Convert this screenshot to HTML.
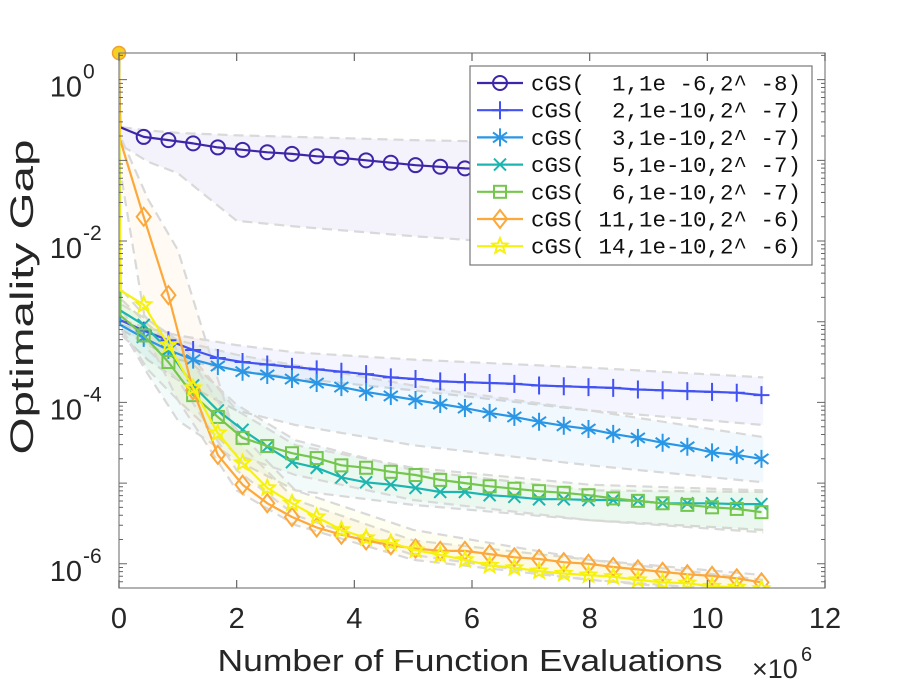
<!DOCTYPE html>
<html><head><meta charset="utf-8"><style>
html,body{margin:0;padding:0;background:#fff;}
svg{display:block;font-family:"Liberation Sans",Arial,sans-serif;}
</style></head><body>
<svg id="chart" width="913" height="686" viewBox="0 0 913 686" xmlns="http://www.w3.org/2000/svg">
<defs><clipPath id="plotclip"><rect x="119" y="53" width="706" height="535"/></clipPath></defs>
<g id="bands" clip-path="url(#plotclip)"></g>
<g id="lines" clip-path="url(#plotclip)"></g>
<g id="axes"></g>
<g id="legend"></g>
</svg>
<script>
// x grid (function evaluations, ×1e6)
const xs = [0, 0.02, 0.42, 0.84, 1.26, 1.68, 2.1, 2.52, 2.94, 3.36, 3.78, 4.2, 4.62, 5.04, 5.46, 5.88, 6.3, 6.72, 7.14, 7.56, 7.98, 8.4, 8.82, 9.24, 9.66, 10.08, 10.5, 10.92];
const initLog = 0.33;
// series values as log10(optimality gap) at xs[1..]
const s1Log = [-0.59,-0.71,-0.75,-0.79,-0.84,-0.87,-0.90,-0.92,-0.95,-0.97,-1.00,-1.03,-1.06,-1.08,-1.10,-1.11,-1.13,-1.15,-1.17,-1.19,-1.21,-1.23,-1.25,-1.27,-1.29,-1.31,-1.33];
const s2Log = [-2.98,-3.11,-3.23,-3.35,-3.45,-3.50,-3.53,-3.56,-3.59,-3.62,-3.65,-3.69,-3.71,-3.74,-3.75,-3.76,-3.77,-3.79,-3.80,-3.81,-3.82,-3.84,-3.85,-3.86,-3.87,-3.88,-3.91];
const s3Log = [-3.04,-3.20,-3.35,-3.47,-3.55,-3.62,-3.66,-3.71,-3.76,-3.81,-3.87,-3.92,-3.97,-4.02,-4.07,-4.13,-4.18,-4.24,-4.29,-4.33,-4.39,-4.44,-4.50,-4.55,-4.62,-4.65,-4.70];
const s5Log = [-2.86,-3.04,-3.35,-3.79,-4.10,-4.34,-4.55,-4.74,-4.81,-4.93,-4.99,-5.02,-5.06,-5.11,-5.11,-5.15,-5.17,-5.20,-5.20,-5.21,-5.21,-5.22,-5.25,-5.25,-5.25,-5.26,-5.26];
const s6Log = [-2.92,-3.17,-3.50,-3.91,-4.18,-4.44,-4.54,-4.63,-4.69,-4.78,-4.81,-4.86,-4.90,-4.96,-5.00,-5.04,-5.07,-5.10,-5.12,-5.15,-5.19,-5.22,-5.25,-5.27,-5.30,-5.32,-5.36];
const s11Log = [-0.75,-1.70,-2.67,-3.85,-4.65,-5.02,-5.25,-5.42,-5.55,-5.64,-5.71,-5.77,-5.81,-5.84,-5.84,-5.88,-5.92,-5.94,-5.98,-6.00,-6.04,-6.07,-6.10,-6.13,-6.15,-6.18,-6.23];
const s14Log = [-2.61,-2.79,-3.29,-3.82,-4.38,-4.75,-5.06,-5.25,-5.42,-5.58,-5.68,-5.74,-5.83,-5.89,-5.95,-6.02,-6.05,-6.09,-6.12,-6.14,-6.16,-6.20,-6.23,-6.24,-6.28,-6.29,-6.31];
// band boundaries (log10)
const bandX = [0.05, 0.5, 1, 2, 3, 5, 8, 10.95];
const b1Up = [-0.59,-0.63,-0.66,-0.69,-0.71,-0.75,-0.79,-0.81], b1Lo = [-0.82,-1.02,-1.16,-1.75,-1.82,-1.94,-2.09,-2.17];
const b2Up = [-2.98,-3.08,-3.17,-3.29,-3.38,-3.47,-3.57,-3.69], b2Lo = [-3.10,-3.29,-3.47,-3.60,-3.70,-3.85,-4.10,-4.28];
const b3Up = [-3.04,-3.14,-3.23,-3.41,-3.54,-3.79,-4.10,-4.43], b3Lo = [-3.17,-3.48,-3.72,-4.10,-4.28,-4.53,-4.78,-4.99];
const b5Up = [-2.73,-3.04,-3.35,-4.03,-4.47,-4.84,-5.09,-5.11], b5Lo = [-3.10,-3.66,-4.22,-4.72,-5.09,-5.27,-5.46,-5.58];
const b6Up = [-2.79,-2.98,-3.23,-4.10,-4.53,-4.81,-5.02,-5.09], b6Lo = [-3.10,-3.60,-3.97,-4.65,-4.90,-5.21,-5.46,-5.61];
const b11Up = [-0.75,-1.49,-2.11,-4.47,-5.21,-5.71,-5.95,-6.14], b11Lo = [-1.25,-3.23,-3.97,-5.09,-5.52,-5.95,-6.20,-6.35];
const b14Up = [-2.61,-2.98,-3.23,-4.34,-5.09,-5.58,-5.95,-6.20], b14Lo = [-2.86,-3.35,-3.72,-4.84,-5.40,-5.89,-6.20,-6.39];
const legendLabels = ["cGS(  1,1e -6,2^ -8)","cGS(  2,1e-10,2^ -7)","cGS(  3,1e-10,2^ -7)","cGS(  5,1e-10,2^ -7)","cGS(  6,1e-10,2^ -7)","cGS( 11,1e-10,2^ -6)","cGS( 14,1e-10,2^ -6)"];
const xTicks = [0,2,4,6,8,10,12];
const yTicks = [0,-2,-4,-6];

const NS="http://www.w3.org/2000/svg";
const X0=119,X1=825,Y0=53,Y1=588;
const xMin=0,xMax=12,lTop=0.33,lBot=-6.30;
const sx=v=>X0+(v-xMin)/(xMax-xMin)*(X1-X0);
const sy=l=>Y0+(lTop-l)/(lTop-lBot)*(Y1-Y0);
function mk(tag,at,parent){const e=document.createElementNS(NS,tag);for(const k in at)e.setAttribute(k,at[k]);parent.appendChild(e);return e;}

const series=[
 {name:"series-m1",data:s1Log,up:b1Up,lo:b1Lo,color:"#3e26a8",marker:"circle"},
 {name:"series-m2",data:s2Log,up:b2Up,lo:b2Lo,color:"#4352f3",marker:"plus"},
 {name:"series-m3",data:s3Log,up:b3Up,lo:b3Lo,color:"#2996e6",marker:"star6"},
 {name:"series-m5",data:s5Log,up:b5Up,lo:b5Lo,color:"#1cb5b0",marker:"x"},
 {name:"series-m6",data:s6Log,up:b6Up,lo:b6Lo,color:"#74c64c",marker:"square"},
 {name:"series-m11",data:s11Log,up:b11Up,lo:b11Lo,color:"#fca83a",marker:"diamond"},
 {name:"series-m14",data:s14Log,up:b14Up,lo:b14Lo,color:"#f5f20f",marker:"pent"}
];
const bandsG=document.getElementById('bands'),linesG=document.getElementById('lines'),axesG=document.getElementById('axes'),legG=document.getElementById('legend');

function drawMarker(type,x,y,color,parent){
 let e;const st={fill:"none",stroke:color,"stroke-width":2};
 if(type==="circle"){e=mk('circle',Object.assign({cx:x,cy:y,r:7},st),parent);}
 else if(type==="plus"){e=mk('path',Object.assign({d:`M${x-8},${y}H${x+8}M${x},${y-9}V${y+9}`},st),parent);}
 else if(type==="x"){e=mk('path',Object.assign({d:`M${x-6},${y-6}L${x+6},${y+6}M${x-6},${y+6}L${x+6},${y-6}`},st),parent);}
 else if(type==="star6"){e=mk('path',Object.assign({d:`M${x},${y-9}V${y+9}M${x-7},${y-5}L${x+7},${y+5}M${x-7},${y+5}L${x+7},${y-5}`},st),parent);}
 else if(type==="square"){e=mk('rect',Object.assign({x:x-6,y:y-6,width:12,height:12},st),parent);}
 else if(type==="diamond"){e=mk('path',Object.assign({d:`M${x},${y-9}L${x+7},${y}L${x},${y+9}L${x-7},${y}Z`},st),parent);}
 else {let p="";for(let i=0;i<10;i++){const r=i%2?3.5:8,a=-Math.PI/2+i*Math.PI/5;p+=(i?"L":"M")+(x+r*Math.cos(a)).toFixed(1)+","+(y+r*Math.sin(a)).toFixed(1);}e=mk('path',Object.assign({d:p+"Z"},st),parent);}
 return e;
}

// bands
series.forEach(s=>{
 let up=bandX.map((x,i)=>`${sx(x).toFixed(1)},${sy(s.up[i]).toFixed(1)}`);
 let lo=bandX.map((x,i)=>`${sx(x).toFixed(1)},${sy(s.lo[i]).toFixed(1)}`).reverse();
 const poly=mk('polygon',{points:up.concat(lo).join(' '),fill:s.color,"fill-opacity":0.06,stroke:"none"},bandsG);
 
 
 [s.up,s.lo].forEach((arr,j)=>{
  const pl=mk('polyline',{points:bandX.map((x,i)=>`${sx(x).toFixed(1)},${sy(arr[i]).toFixed(1)}`).join(' '),fill:"none",stroke:"#d9d9d9","stroke-width":2.2,"stroke-dasharray":"10 6"},bandsG);
  
  
 });
});
// lines + markers
series.forEach(s=>{
 const pts=[`${sx(xs[0])},${sy(initLog)}`].concat(s.data.map((l,i)=>`${sx(xs[i+1]).toFixed(1)},${sy(l).toFixed(1)}`));
 const pl=mk('polyline',{points:pts.join(' '),fill:"none",stroke:s.color,"stroke-width":2.2,"stroke-linejoin":"round"},linesG);
 
 
 for(let i=1;i<s.data.length;i++){
  const m=drawMarker(s.marker,sx(xs[i+1]),sy(s.data[i]),s.color,linesG);
  
  
 }
});
const startDot=mk('circle',{cx:sx(0),cy:sy(initLog),r:6.5,fill:"#f5d020",stroke:"#f0a030","stroke-width":1.5},axesG);



// axes box
const box=mk('rect',{x:X0,y:Y0,width:X1-X0,height:Y1-Y0,fill:"none",stroke:"#888","stroke-width":1.3},axesG);


xTicks.forEach(t=>{
 const x=sx(t);
 mk('path',{d:`M${x},${Y1}v-8M${x},${Y0}v8`,stroke:"#666","stroke-width":1.2},axesG);
 const tx=mk('text',{x:x,y:628,"font-size":29,"text-anchor":"middle",fill:"#262626"},axesG);
 tx.textContent=t;
 
 
});
for(let d=1;d>=-7;d--){
 for(let m=1;m<10;m++){
  const l=d+Math.log10(m);
  if(l>lTop||l<lBot)continue;
  const y=sy(l),len=m===1?8:4;
  mk('path',{d:`M${X0},${y}h${len}M${X1},${y}h-${len}`,stroke:"#666","stroke-width":1},axesG);
 }
}
yTicks.forEach(t=>{
 const y=sy(t);
 const tx=mk('text',{x:82,y:y+17,"font-size":29,"text-anchor":"end",fill:"#262626"},axesG);
 tx.textContent="10";
 
 
 const sp=mk('text',{x:83,y:y-1,"font-size":21,"text-anchor":"start",fill:"#262626"},axesG);
 sp.textContent=t===0?"0":String(t);
 
 
});
const xl=mk('text',{x:470,y:671,"font-size":31,"text-anchor":"middle",fill:"#262626",textLength:505,lengthAdjust:"spacingAndGlyphs"},axesG);
xl.textContent="Number of Function Evaluations";


const yl=mk('text',{x:0,y:0,"font-size":32,"text-anchor":"middle",fill:"#262626",textLength:315,lengthAdjust:"spacingAndGlyphs",transform:"translate(33,297) rotate(-90)"},axesG);
yl.textContent="Optimality Gap";


const mul=mk('text',{x:752,y:678,"font-size":27,fill:"#262626"},axesG);
mul.textContent="×10";


const mul6=mk('text',{x:801,y:661,"font-size":20,fill:"#262626"},axesG);
mul6.textContent="6";



// legend
const lb=mk('rect',{x:470,y:66,width:342,height:199,fill:"#fff",stroke:"#777","stroke-width":1.2},legG);


series.forEach((s,i)=>{
 const y=83+i*27.2;
 const g=mk('g',{},legG);
 
 
 mk('line',{x1:477,x2:523,y1:y,y2:y,stroke:s.color,"stroke-width":2.2},g);
 drawMarker(s.marker,500,y,s.color,g);
 const t=mk('text',{x:531,y:y+7.5,"font-size":22.5,fill:"#111","font-family":"Liberation Mono, monospace","xml:space":"preserve",style:"white-space:pre"},g);
 t.textContent=legendLabels[i];
});
</script>
</body></html>
